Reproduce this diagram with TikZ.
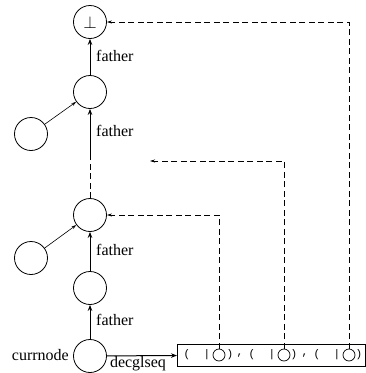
\documentclass[tikz,border=0pt]{standalone}
\usepackage{fontspec}
\setmainfont{Liberation Serif}
\setmonofont{Liberation Mono}
\usetikzlibrary{arrows.meta}
\begin{document}
\begin{tikzpicture}[x=1pt,y=-1pt,
  tnode/.style={circle,draw,line width=0.8pt,minimum size=33pt,inner sep=0pt},
  sarrow/.style={line width=1pt,-{Stealth[length=6pt,width=4.5pt]}},
  tarrow/.style={line width=0.6pt,-{Stealth[length=5pt,width=3pt]}},
  dline/.style={line width=0.7pt,dash pattern=on 6pt off 3.5pt},
  darrow/.style={dline,-{Stealth[length=5pt,width=3pt]}},
  lbl/.style={font=\fontsize{16}{18}\selectfont,inner sep=0pt},
  tt/.style={font=\ttfamily\fontsize{11}{13}\selectfont,inner sep=0pt},
  small/.style={circle,draw,line width=0.7pt,minimum size=12pt,inner sep=0pt}]
\useasboundingbox (0,0) rectangle (366,373);
% tree nodes
\node[tnode] (n0) at (90,22) {\fontsize{16}{18}\selectfont$\perp$};
\node[tnode] (n1) at (90,92) {};
\node[tnode] (l1) at (31,134) {};
\node[tnode] (n2) at (90,215) {};
\node[tnode] (l2) at (31,258) {};
\node[tnode] (n3) at (90,288) {};
\node[tnode] (cur) at (90,356) {};
% labels
\node[lbl,anchor=west] (f1) at (96,56) {father};
\node[lbl,anchor=west] (f2) at (96,131) {father};
\node[lbl,anchor=west] (f3) at (96,250) {father};
\node[lbl,anchor=west] (f4) at (96,320) {father};
\node[lbl,anchor=east] (cn) at (69,355) {currnode};
\node[lbl] (dg) at (138,364) {decglseq};
% box
\node[draw,line width=0.8pt,minimum width=188pt,minimum height=22pt,inner sep=0pt,anchor=west] (box) at (177,355) {};
\node[small] (c1) at (219,355) {};
\node[small] (c2) at (284,355) {};
\node[small] (c3) at (349,355) {};
\node[tt] (p1) at (187,355) {(};
\node[tt] (b1) at (207,355) {|};
\node[tt] (q1) at (230,355) {)};
\node[tt] (k1) at (240,356) {,};
\node[tt] (p2) at (252,355) {(};
\node[tt] (b2) at (272,355) {|};
\node[tt] (q2) at (294,355) {)};
\node[tt] (k2) at (305,356) {,};
\node[tt] (p3) at (317,355) {(};
\node[tt] (b3) at (337,355) {|};
\node[tt] (q3) at (359,355) {)};
% solid arrows
\draw[sarrow] (n1) -- (n0);
\coordinate (mid) at (90,157);
\draw[dline] (n2) -- (mid);
\draw[sarrow] (mid) -- (n1);
\draw[sarrow] (n3) -- (n2);
\draw[sarrow] (cur) -- (n3);
\draw[tarrow] (l1) -- (n1);
\draw[tarrow] (l2) -- (n2);
\draw[sarrow] (cur) -- (box);
% dashed pointers
\coordinate (t1) at (219,215);
\draw[darrow] (c1) -- (t1) -- (n2);
\coordinate (t2) at (284,161);
\coordinate (e2) at (150,161);
\draw[darrow] (c2) -- (t2) -- (e2);
\coordinate (t3) at (349,22);
\draw[darrow] (c3) -- (t3) -- (n0);
\end{tikzpicture}
\end{document}
